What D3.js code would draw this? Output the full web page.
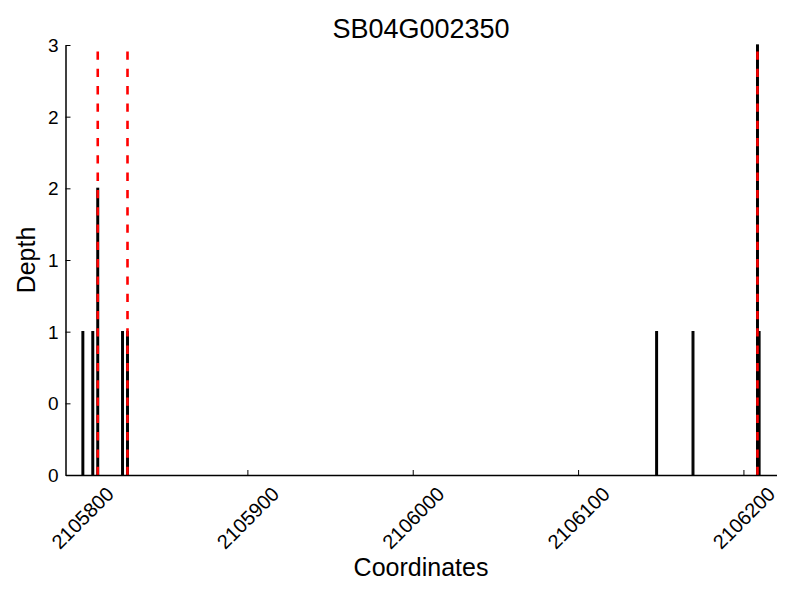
<!DOCTYPE html>
<html>
<head>
<meta charset="utf-8">
<script src="https://cdn.jsdelivr.net/npm/d3@7"></script>
<style>
  body { margin: 0; background: #fff; }
  text { font-family: "Liberation Sans", Arial, sans-serif; fill: #000; }
</style>
</head>
<body>
<svg id="chart" width="800" height="600"></svg>
<script>
// ---- data ----
const title = "SB04G002350";
const xLabel = "Coordinates";
const yLabel = "Depth";
const positions = [2105800, 2105806, 2105809, 2105824, 2105827, 2106147, 2106169, 2106208, 2106209];
const depths    = [1, 1, 2, 1, 1, 1, 1, 3, 1];
const markers   = [2105809.5, 2105827.5, 2106208.5];
const xTicks = [2105800, 2105900, 2106000, 2106100, 2106200];
const yTicks = [0, 0.5, 1, 1.5, 2, 2.5, 3];
const xDomain = [2105790, 2106220];
const yDomain = [0, 3];

// ---- layout ----
const L = 65.5, R = 776.5, T = 45, B = 475;
const svg = d3.select("#chart");
const x = d3.scaleLinear().domain(xDomain).range([L, R]);
const y = d3.scaleLinear().domain(yDomain).range([B, T]);

// bars
svg.append("g").selectAll("rect")
  .data(positions.map((p, i) => ({p, d: depths[i]})))
  .join("rect")
  .attr("x", d => x(d.p))
  .attr("width", d => x(d.p + 1) - x(d.p))
  .attr("y", d => y(d.d))
  .attr("height", d => y(0) - y(d.d))
  .attr("fill", "#000")
  .attr("stroke", "#000")
  .attr("stroke-width", 1.3);

// red dashed markers, drawn from bottom to top
svg.append("g").selectAll("line")
  .data(markers)
  .join("line")
  .attr("x1", d => x(d)).attr("x2", d => x(d))
  .attr("y1", y(0)).attr("y2", y(3))
  .attr("stroke", "#ff0000")
  .attr("stroke-width", 2.6)
  .attr("stroke-dasharray", "8.3,9");

// axes
const xAxis = d3.axisBottom(x).tickValues(xTicks).tickSizeInner(-5).tickSizeOuter(0).tickFormat(d3.format("d"));
const gx = svg.append("g").attr("transform", `translate(0,${B})`).call(xAxis);
gx.select(".domain").attr("stroke", "#000").attr("stroke-width", 1.5);
gx.selectAll(".tick line").attr("stroke", "#000").attr("stroke-width", 1);
gx.selectAll(".tick text")
  .attr("font-size", 20)
  .attr("y", 0).attr("dy", 0)
  .attr("text-anchor", "middle")
  .attr("dominant-baseline", "central")
  .each(function() {
    const t = d3.select(this);
    const len = this.getComputedTextLength();
    const h = 15;
    const half = (len + h) / (2 * Math.SQRT2);
    const cy = 10 + half;
    t.attr("transform", `translate(0,${cy}) rotate(-45)`);
  });

const yAxis = d3.axisLeft(y).tickValues(yTicks).tickSizeInner(-5).tickSizeOuter(0)
  .tickFormat(d => String(Math.trunc(d)));
const gy = svg.append("g").attr("transform", `translate(${L},0)`).call(yAxis);
gy.select(".domain").attr("stroke", "#000").attr("stroke-width", 1.5);
gy.selectAll(".tick line").attr("stroke", "#000").attr("stroke-width", 1);
gy.selectAll(".tick text").attr("font-size", 19).attr("x", -7).attr("dy", "0.35em");

// titles
svg.append("text").attr("x", (L + R) / 2).attr("y", 38)
  .attr("text-anchor", "middle").attr("font-size", 27).text(title);
svg.append("text").attr("x", (L + R) / 2).attr("y", 576)
  .attr("text-anchor", "middle").attr("font-size", 25).text(xLabel);
svg.append("text").attr("transform", `translate(35,${(T + B) / 2}) rotate(-90)`)
  .attr("text-anchor", "middle").attr("font-size", 25).text(yLabel);
</script>
</body>
</html>
